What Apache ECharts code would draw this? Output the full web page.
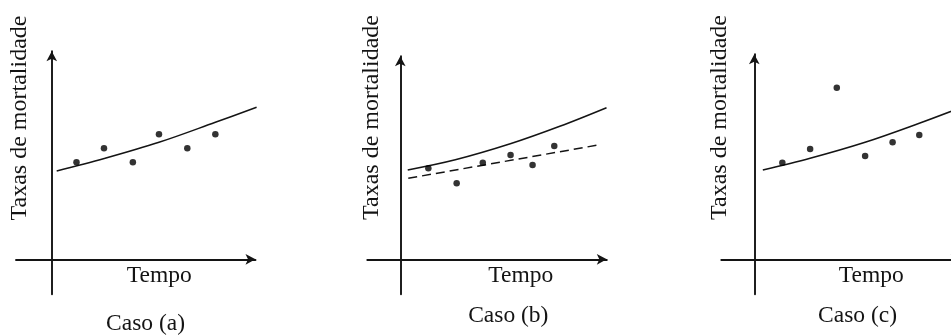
<!DOCTYPE html>
<html lang="pt">
<head>
<meta charset="utf-8">
<title>Taxas de mortalidade – Casos (a), (b) e (c)</title>
<script src="https://cdn.jsdelivr.net/npm/echarts@6/dist/echarts.min.js"></script>
<style>
  html, body { margin: 0; padding: 0; background: #ffffff; }
  #chart { width: 951px; height: 336px; }
</style>
</head>
<body>
<div id="chart"></div>
<script>
// Observações (tempo, taxa) e curvas de tendência para cada caso
const pontosA = [[0.9, 9.7], [1.9, 11.1], [2.95, 9.7], [3.9, 12.5], [4.93, 11.1], [5.95, 12.5]];
const curvaA  = [[0.18, 8.83], [1.91, 10.08], [3.9, 11.7], [5.95, 13.7], [7.45, 15.2]];

const pontosB = [[1.02, 9.1], [2.05, 7.6], [3.0, 9.66], [4.01, 10.43], [4.81, 9.43], [5.6, 11.33]];
const curvaB  = [[0.27, 8.93], [2.0, 9.95], [4.0, 11.55], [5.8, 13.3], [7.5, 15.16]];
const ajusteB = [[0.29, 8.1], [7.2, 11.43]];

const pontosC = [[1.02, 9.66], [2.03, 11.03], [3.0, 17.16], [4.03, 10.33], [5.03, 11.7], [6.0, 12.43]];
const curvaC  = [[0.31, 8.93], [2.03, 10.1], [4.03, 11.7], [6.0, 13.6], [7.45, 15.1]];

const rotuloY = 'Taxas de mortalidade';
const rotuloX = 'Tempo';
const legendas = ['Caso (a)', 'Caso (b)', 'Caso (c)'];

const tinta = '#141414';
const fonte = '"Liberation Serif", "Times New Roman", serif';

// Layout of the three panels (grid box + axis ranges); 27.5 px per x unit, 10 px per y unit
const paineis = [
  { left: 16,    top: 51.3, width: 239.5, height: 243, xMin: -1.3, xMax: 7.41, yMin: -3.5, yMax: 20.8 },
  { left: 367.3, top: 56.3, width: 239.5, height: 238, xMin: -1.2, xMax: 7.51, yMin: -3.5, yMax: 20.3 },
  { left: 721.3, top: 54.3, width: 239.5, height: 240, xMin: -1.2, xMax: 7.51, yMin: -3.5, yMax: 20.5 }
];

function eixo(min, max, gridIndex) {
  return {
    type: 'value', gridIndex, min, max,
    axisLine: {
      show: true, onZero: true,
      symbol: ['none', 'arrow'], symbolSize: [8, 10],
      lineStyle: { color: tinta, width: 1.9 }
    },
    axisTick: { show: false },
    axisLabel: { show: false },
    splitLine: { show: false }
  };
}

// The third panel runs past the right edge, so the grid must not be pulled back inside
const grid = paineis.map(p => ({
  left: p.left, top: p.top, width: p.width, height: p.height,
  containLabel: false, outerBoundsMode: 'none'
}));
const xAxis = paineis.map((p, i) => eixo(p.xMin, p.xMax, i));
const yAxis = paineis.map((p, i) => eixo(p.yMin, p.yMax, i));

function curva(dados, i, tipo) {
  return {
    type: 'line', xAxisIndex: i, yAxisIndex: i, data: dados,
    smooth: tipo === 'solid' ? 0.35 : false,
    showSymbol: false, clip: false, silent: true,
    lineStyle: { color: tinta, width: 1.5, type: tipo === 'solid' ? 'solid' : [9, 5] },
    z: 2
  };
}
function pontos(dados, i) {
  return {
    type: 'scatter', xAxisIndex: i, yAxisIndex: i, data: dados,
    symbol: 'circle', symbolSize: 6.5, clip: false, silent: true,
    itemStyle: { color: '#000000' },
    z: 3
  };
}

const series = [
  curva(curvaA, 0, 'solid'), pontos(pontosA, 0),
  curva(curvaB, 1, 'solid'), curva(ajusteB, 1, 'dashed'), pontos(pontosB, 1),
  curva(curvaC, 2, 'solid'), pontos(pontosC, 2)
];

// Text labels: rotated y-axis title, x-axis title and caption under each panel
const posY = [[20, 118], [371.7, 117.5], [720, 117.5]];
const posX = [[159.3, 276], [520.8, 276], [871.2, 276]];
const posLegenda = [[145.5, 324], [508.3, 316], [857.5, 316]];

const graphic = [];
posY.forEach(([x, y]) => graphic.push({
  type: 'text', x, y, rotation: Math.PI / 2, silent: true,
  style: { text: rotuloY, font: '24px ' + fonte, fill: tinta, align: 'center', verticalAlign: 'middle' }
}));
posX.forEach(([x, y]) => graphic.push({
  type: 'text', x, y, silent: true,
  style: { text: rotuloX, font: '23.5px ' + fonte, fill: tinta, align: 'center', verticalAlign: 'middle' }
}));
posLegenda.forEach(([x, y], i) => graphic.push({
  type: 'text', x, y, silent: true,
  style: { text: legendas[i], font: '23.5px ' + fonte, fill: tinta, align: 'center', verticalAlign: 'middle' }
}));

const chart = echarts.init(document.getElementById('chart'), null, { renderer: 'canvas' });
chart.setOption({
  backgroundColor: '#ffffff',
  animation: false,
  grid, xAxis, yAxis, series, graphic
});
</script>
</body>
</html>
